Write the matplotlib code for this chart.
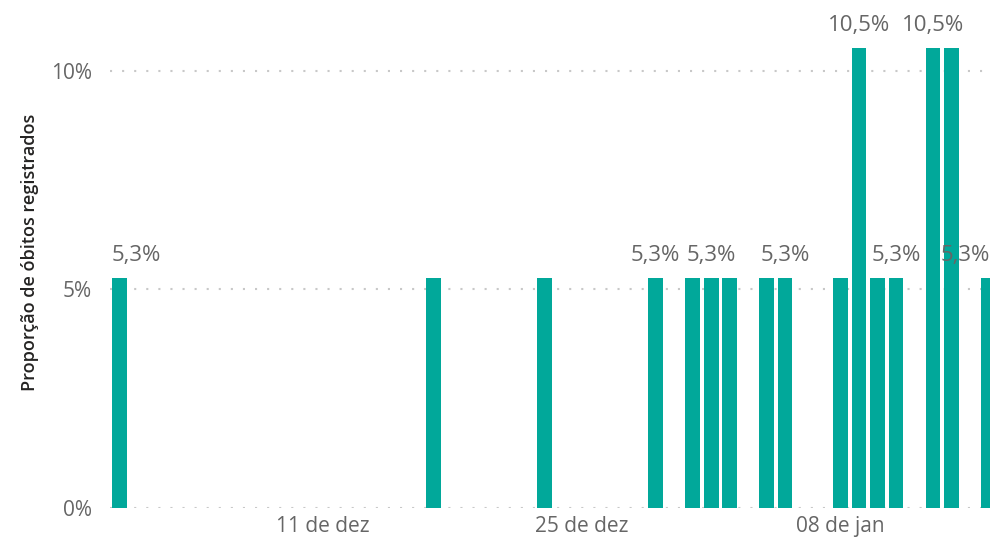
import numpy as np
import pandas as pd
import matplotlib
matplotlib.use("Agg")
import matplotlib.pyplot as plt

# daily share of registered deaths (%)
dates = ["2020-11-30", "2020-12-17", "2020-12-23", "2020-12-29", "2020-12-31",
         "2021-01-01", "2021-01-02", "2021-01-04", "2021-01-05", "2021-01-08",
         "2021-01-09", "2021-01-10", "2021-01-11", "2021-01-13", "2021-01-14",
         "2021-01-16"]
share = [5.26, 5.26, 5.26, 5.26, 5.26,
         5.26, 5.26, 5.26, 5.26, 5.26,
         10.53, 5.26, 5.26, 10.53, 10.53,
         5.26]
# bars that get a data label in the original
labelled = ["2020-11-30", "2020-12-29", "2021-01-01", "2021-01-05",
            "2021-01-09", "2021-01-11", "2021-01-13", "2021-01-16"]

tick_dates = ["2020-12-11", "2020-12-25", "2021-01-08"]
tick_labels = ["11 de dez", "25 de dez", "08 de jan"]
y_ticks = [0, 5, 10]
y_tick_labels = ["0%", "5%", "10%"]

teal = "#01A89A"
grey = "#666666"
plt.rcParams['font.family'] = ['Open Sans', 'DejaVu Sans']

x = pd.to_datetime(dates)
fig = plt.figure(figsize=(9.9, 5.39), dpi=100)
ax = fig.add_axes([110/990, 31/539, 880/990, 508/539])

ax.bar(x, share, width=0.8, color=teal, zorder=3)

for yy in y_ticks:
    ax.axhline(yy, color="#C8C8C8", lw=1.5, ls=(0, (1, 4.8)), zorder=1)

for d, v in zip(x, share):
    if d.strftime("%Y-%m-%d") not in labelled:
        continue
    txt = f"{v:.1f}%".replace(".", ",")
    if d == x[0]:
        ax.annotate(txt, (0, v), xycoords=("axes fraction", "data"),
                    xytext=(2, 12), textcoords="offset pixels",
                    ha="left", va="bottom", fontsize=16, color=grey)
    elif d == x[-1]:
        ax.annotate(txt, (1, v), xycoords=("axes fraction", "data"),
                    xytext=(0, 12), textcoords="offset pixels",
                    ha="right", va="bottom", fontsize=16, color=grey)
    else:
        ax.annotate(txt, (d, v), xytext=(0, 12), textcoords="offset pixels",
                    ha="center", va="bottom", fontsize=16, color=grey)

ax.set_xlim(x[0] - pd.Timedelta(hours=12.3), x[-1] + pd.Timedelta(hours=2))
ax.set_ylim(0, 11.62)
ax.set_xticks(pd.to_datetime(tick_dates))
ax.set_xticklabels(tick_labels)
ax.set_yticks(y_ticks)
ax.set_yticklabels(y_tick_labels)
ax.tick_params(axis="both", length=0, labelsize=15, labelcolor=grey)
ax.tick_params(axis="y", pad=13)
ax.tick_params(axis="x", pad=6)
for s in ax.spines.values():
    s.set_visible(False)

fig.text(30/990, 1 - 252/539, "Proporção de óbitos registrados", rotation=90,
         ha="center", va="center", fontsize=13, fontweight="semibold",
         color="#252423")

fig.savefig("out.png", dpi=100)
